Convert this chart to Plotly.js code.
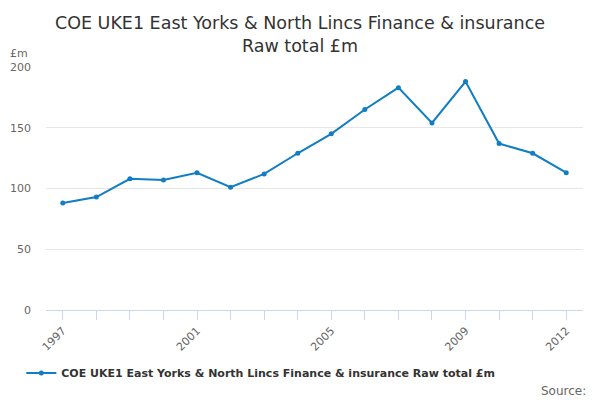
<!DOCTYPE html>
<html>
<head>
<meta charset="utf-8">
<script src="https://cdn.plot.ly/plotly-3.0.1.min.js"></script>
<style>
  html, body { margin: 0; padding: 0; background: #fff; }
  #chart { width: 600px; height: 400px; }
</style>
</head>
<body>
<div id="chart"></div>
<script>
// Chart data
const years = [1997, 1998, 1999, 2000, 2001, 2002, 2003, 2004,
               2005, 2006, 2007, 2008, 2009, 2010, 2011, 2012];
const values = [88, 93, 108, 107, 113, 101, 112, 129,
                145, 165, 183, 154, 188, 137, 129, 113];
const labelledYears = [1997, 2001, 2005, 2009, 2012];
const yTicks = [0, 50, 100, 150, 200];

const seriesName = 'COE UKE1 East Yorks & North Lincs Finance & insurance Raw total £m';
const font = 'DejaVu Sans, Verdana, sans-serif';

const tickText = years.map(y => labelledYears.includes(y) ? String(y) : '');

const trace = {
    x: years,
    y: values,
    mode: 'lines+markers',
    type: 'scatter',
    name: seriesName,
    line: { color: '#117dc2', width: 2 },
    marker: { color: '#117dc2', size: 5 },
    hoverinfo: 'x+y'
};

const layout = {
    width: 600,
    height: 400,
    paper_bgcolor: '#ffffff',
    plot_bgcolor: '#ffffff',
    margin: { l: 46, r: 17, t: 67, b: 88 },
    font: { family: font, color: '#666666', size: 11 },
    title: {
        text: 'COE UKE1 East Yorks & North Lincs Finance & insurance<br>Raw total £m',
        font: { family: font, size: 17.5, color: '#333333' },
        x: 0.5,
        xanchor: 'center',
        y: 0.927,
        yanchor: 'middle'
    },
    xaxis: {
        range: [1996.5, 2012.5],
        tickmode: 'array',
        tickvals: years,
        ticktext: tickText,
        tickangle: -45,
        ticks: 'outside',
        ticklen: 9,
        tickcolor: '#ccd6eb',
        showline: true,
        linecolor: '#ccd6eb',
        linewidth: 1,
        showgrid: false,
        zeroline: false,
        tickfont: { family: font, size: 11, color: '#666666' }
    },
    yaxis: {
        range: [0, 200],
        tickmode: 'array',
        tickvals: yTicks,
        showgrid: true,
        gridcolor: '#e6e6e6',
        zeroline: false,
        showline: false,
        ticks: '',
        ticklabelstandoff: 14,
        tickfont: { family: font, size: 11, color: '#666666' }
    },
    showlegend: true,
    legend: {
        orientation: 'h',
        x: 0.4,
        xanchor: 'center',
        y: -0.2,
        yanchor: 'top',
        font: { family: font, size: 11, color: '#333333', weight: 'bold' }
    },
    annotations: [
        {
            text: '£m',
            xref: 'paper', yref: 'paper',
            x: -0.07, y: 1.02,
            xanchor: 'left', yanchor: 'bottom',
            showarrow: false,
            font: { family: font, size: 11, color: '#666666' }
        },
        {
            text: 'Source:',
            xref: 'paper', yref: 'paper',
            x: 1.01, y: -0.297,
            xanchor: 'right', yanchor: 'top',
            showarrow: false,
            font: { family: font, size: 12, color: '#666666' }
        }
    ]
};

Plotly.newPlot('chart', [trace], layout, { displayModeBar: false, staticPlot: true });
</script>
</body>
</html>
